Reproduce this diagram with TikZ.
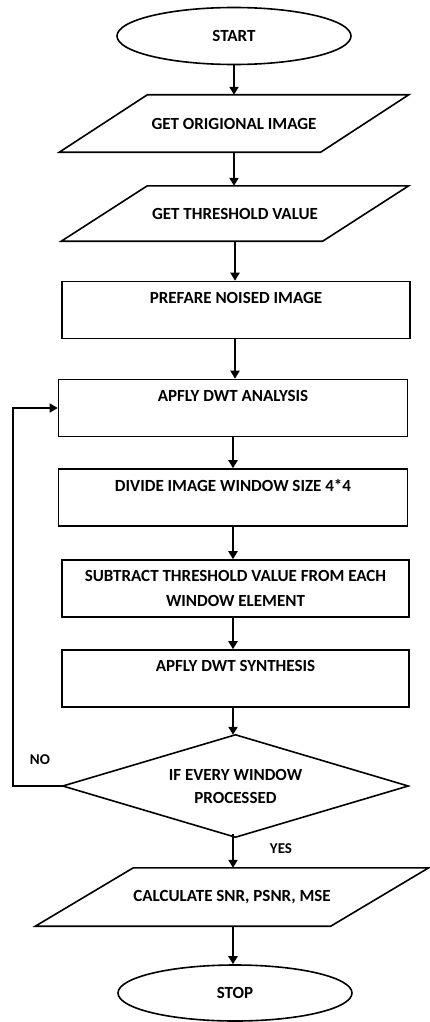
\documentclass[tikz,border=0pt]{standalone}
\usepackage{fontspec}
\setmainfont{Carlito}
\usetikzlibrary{shapes.geometric,arrows.meta}
\begin{document}
\begin{tikzpicture}[x=1pt,y=-1pt,
  every node/.style={font=\fontsize{17}{25}\selectfont\bfseries, align=center, inner sep=0pt},
  shapeline/.style={draw, line width=1.6pt},
  terminal/.style={shapeline, ellipse, minimum width=234pt, minimum height=57pt},
  procbox/.style={shapeline, rectangle, minimum width=348pt, minimum height=57pt},
  iobox/.style={rectangle, minimum width=#1, minimum height=57pt},
  arr/.style={line width=2pt, -{Triangle[length=8pt,width=9pt]}},
  tag/.style={font=\fontsize{15}{16}\selectfont\bfseries}]
\useasboundingbox (0,0) rectangle (429,1022);

% terminals, steps and the loop test
\node[terminal] (start) at (234,36) {START};
\node[iobox=261pt] (orig) at (234,123.5) {GET ORIGIONAL IMAGE};
\node[iobox=261pt, minimum height=55pt] (thr) at (235,213.5) {GET THRESHOLD VALUE};
\node[procbox] (noise) at (236,310) {PREFARE NOISED IMAGE\\\mbox{}};
\node[procbox, minimum width=349pt] (ana) at (233,408) {APFLY DWT ANALYSIS\\\mbox{}};
\node[procbox, minimum width=349pt] (div) at (233,497.5) {DIVIDE IMAGE WINDOW SIZE 4*4\\\mbox{}};
\node[procbox, minimum width=347pt] (sub) at (235.5,588.5) {SUBTRACT THRESHOLD VALUE FROM EACH\\WINDOW ELEMENT};
\node[procbox, minimum width=347pt] (syn) at (235.5,678.5) {APFLY DWT SYNTHESIS\\\mbox{}};
\node[rectangle, minimum width=345pt, minimum height=102pt, font=\fontsize{17}{23}\selectfont\bfseries] (dec) at (235.5,786) {IF EVERY WINDOW\\PROCESSED};
\node[iobox=295pt, minimum height=58pt] (calc) at (232,897) {CALCULATE SNR, PSNR, MSE};
\node[terminal, minimum height=56pt] (stop) at (235,993) {STOP};

% slanted outlines of the input/output steps
\foreach \n/\s in {orig/44, thr/43, calc/49}{
  \draw[shapeline] ([xshift=\s pt]\n.north west) -- ([xshift=\s pt]\n.north east)
    -- ([xshift=-\s pt]\n.south east) -- ([xshift=-\s pt]\n.south west) -- cycle;
}
% diamond outline of the test
\draw[shapeline] (dec.north) -- (dec.east) -- (dec.south) -- (dec.west) -- cycle;

% main flow
\draw[arr] (start.south) -- (start.south |- orig.north);
\draw[arr] (orig.south) -- (orig.south |- thr.north);
\draw[arr] (thr.south) -- (thr.south |- noise.north);
\draw[arr] (noise.south -| thr.south) -- (thr.south |- ana.north);
\draw[arr] (ana.south) -- (ana.south |- div.north);
\draw[arr] (div.south) -- (div.south |- sub.north);
\draw[arr] (sub.south -| div.south) -- (div.south |- syn.north);
\draw[arr] (syn.south -| div.south) -- (div.south |- dec.north);
\draw[arr] ([yshift=3pt]dec.south -| div.south) -- (div.south |- calc.north);
\draw[arr] (calc.south -| div.south) -- (div.south |- stop.north);

% loop back when windows remain
\coordinate (back) at (13,786);
\draw[line width=1.5pt, -{Triangle[length=8pt,width=9pt]}] (dec.west) -- (back) |- (ana.west);

\node[tag] (no) at (40,760) {NO};
\node[tag] (yes) at (281,849) {YES};
\end{tikzpicture}
\end{document}
